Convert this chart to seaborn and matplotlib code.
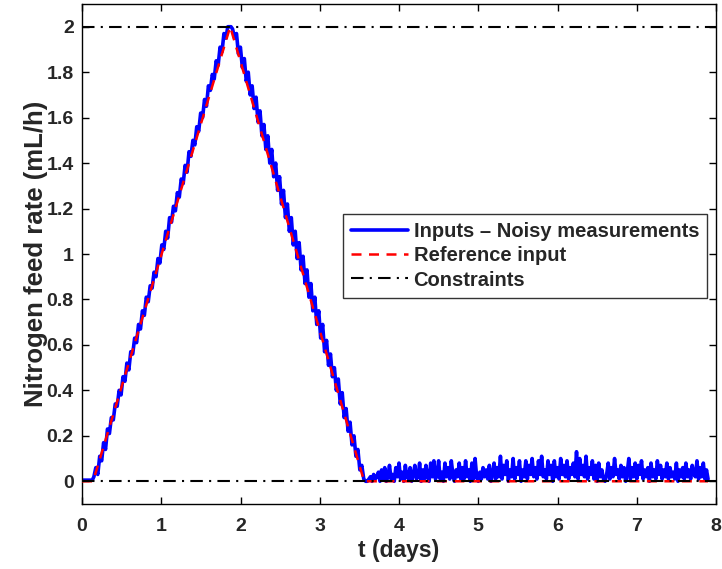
import numpy as np
import pandas as pd
import matplotlib
matplotlib.use("Agg")
import matplotlib.pyplot as plt
import seaborn as sns

# ---- data ----
start_t = [0.0, 0.07, 0.13]
start_y = [0.005, 0.005, 0.005]

rise_y = [0.02, 0.06, 0.03, 0.11, 0.09, 0.17, 0.14, 0.23, 0.21, 0.28,
          0.27, 0.34, 0.33, 0.40, 0.38, 0.46, 0.44, 0.52, 0.49, 0.57,
          0.56, 0.63, 0.61, 0.69, 0.67, 0.75, 0.73, 0.81, 0.79, 0.86,
          0.85, 0.92, 0.90, 0.98, 0.96, 1.04, 1.02, 1.10, 1.07, 1.16,
          1.14, 1.21, 1.19, 1.27, 1.25, 1.33, 1.31, 1.39, 1.36, 1.45,
          1.43, 1.50, 1.48, 1.56, 1.54, 1.62, 1.60, 1.68, 1.65, 1.74,
          1.72, 1.79, 1.77, 1.85, 1.83, 1.91, 1.89, 1.97, 1.95, 2.00]
rise_t = np.linspace(0.15, 1.84, len(rise_y))

peak_t = [1.86, 1.88]
peak_y = [2.00, 2.00]

fall_y = [1.99, 1.95, 1.97, 1.88, 1.91, 1.82, 1.86, 1.76, 1.80, 1.70,
          1.74, 1.64, 1.69, 1.58, 1.63, 1.52, 1.57, 1.46, 1.52, 1.40,
          1.46, 1.34, 1.40, 1.28, 1.34, 1.22, 1.28, 1.16, 1.22, 1.10,
          1.16, 1.04, 1.10, 0.98, 1.05, 0.93, 0.99, 0.87, 0.93, 0.81,
          0.87, 0.75, 0.81, 0.69, 0.75, 0.63, 0.69, 0.57, 0.62, 0.51,
          0.56, 0.46, 0.50, 0.40, 0.45, 0.34, 0.39, 0.28, 0.32, 0.22,
          0.26, 0.16, 0.20, 0.11, 0.14, 0.05, 0.07, 0.01, 0.00]
fall_t = np.linspace(1.90, 3.58, len(fall_y))

tail_y = [0.00, 0.01, 0.02, 0.00, 0.03, 0.01, 0.02, 0.04, 0.00, 0.05,
          0.01, 0.06, 0.00, 0.02, 0.07, 0.01, 0.03, 0.00, 0.06, 0.02,
          0.08, 0.01, 0.04, 0.00, 0.07, 0.02, 0.01, 0.06, 0.00, 0.03,
          0.07, 0.01, 0.02, 0.08, 0.00, 0.05, 0.01, 0.07, 0.02, 0.00,
          0.08, 0.02, 0.09, 0.01, 0.03, 0.09, 0.01, 0.04, 0.00, 0.08,
          0.02, 0.06, 0.01, 0.09, 0.03, 0.00, 0.05, 0.02, 0.08, 0.01,
          0.06, 0.01, 0.09, 0.02, 0.05, 0.00, 0.08, 0.01, 0.10, 0.02,
          0.00, 0.04, 0.01, 0.06, 0.02, 0.05, 0.01, 0.07, 0.00, 0.03,
          0.08, 0.01, 0.06, 0.02, 0.11, 0.01, 0.07, 0.03, 0.09, 0.00,
          0.05, 0.02, 0.10, 0.01, 0.06, 0.03, 0.09, 0.00, 0.05, 0.02,
          0.09, 0.01, 0.07, 0.03, 0.10, 0.02, 0.06, 0.01, 0.09, 0.03,
          0.11, 0.02, 0.05, 0.01, 0.09, 0.03, 0.07, 0.00, 0.09, 0.02,
          0.06, 0.01, 0.10, 0.03, 0.07, 0.02, 0.09, 0.01, 0.06, 0.03,
          0.08, 0.02, 0.13, 0.01, 0.10, 0.03, 0.07, 0.02, 0.11, 0.01,
          0.06, 0.03, 0.09, 0.01, 0.07, 0.00, 0.08, 0.02, 0.05, 0.01,
          0.00, 0.03, 0.08, 0.01, 0.06, 0.02, 0.10, 0.03, 0.05, 0.01,
          0.07, 0.02, 0.06, 0.00, 0.04, 0.10, 0.01, 0.06, 0.02, 0.08,
          0.01, 0.07, 0.03, 0.09, 0.01, 0.05, 0.02, 0.06, 0.00, 0.08,
          0.02, 0.05, 0.01, 0.09, 0.03, 0.07, 0.01, 0.05, 0.02, 0.08,
          0.01, 0.06, 0.02, 0.04, 0.01, 0.08, 0.00, 0.05, 0.02, 0.06,
          0.01, 0.08, 0.02, 0.05, 0.01, 0.07, 0.03, 0.02, 0.09, 0.01,
          0.06, 0.02, 0.08, 0.01, 0.05, 0.01]
tail_t = np.linspace(3.60, 7.90, len(tail_y))

ref_t = [0.0, 0.14, 1.87, 3.56, 7.90]
ref_y = [0.0, 0.0, 2.0, 0.0, 0.0]

constraint_t = [0.0, 8.0]
upper_limit = [2.0, 2.0]
lower_limit = [0.0, 0.0]

x_ticks = [0, 1, 2, 3, 4, 5, 6, 7, 8]
y_ticks = [0, 0.2, 0.4, 0.6, 0.8, 1, 1.2, 1.4, 1.6, 1.8, 2]
y_tick_labels = ["0", "0.2", "0.4", "0.6", "0.8", "1", "1.2", "1.4", "1.6", "1.8", "2"]

# ---- build tables ----
meas = pd.DataFrame({
    "t": np.concatenate([start_t, rise_t, peak_t, fall_t, tail_t]),
    "rate": np.concatenate([start_y, rise_y, peak_y, fall_y, tail_y]),
})
ref = pd.DataFrame({"t": ref_t, "rate": ref_y})
upper = pd.DataFrame({"t": constraint_t, "rate": upper_limit})
lower = pd.DataFrame({"t": constraint_t, "rate": lower_limit})

sns.set_theme(style="white")
plt.rcParams["font.family"] = ["Liberation Sans", "DejaVu Sans"]
plt.rcParams["font.weight"] = "bold"

fig = plt.figure(figsize=(7.22, 5.69), dpi=100)
ax = fig.add_axes([82 / 722, 1 - 504 / 569, (716 - 82) / 722, (504 - 4) / 569])

sns.lineplot(data=meas, x="t", y="rate", ax=ax, sort=False, estimator=None,
             color="#0000ff", lw=2.6, label="Inputs \u2013 Noisy measurements", zorder=2)
sns.lineplot(data=ref, x="t", y="rate", ax=ax, sort=False, estimator=None,
             color="#ff0000", lw=1.8, label="Reference input", zorder=3)
ax.lines[-1].set_linestyle((0, (4, 3)))
sns.lineplot(data=upper, x="t", y="rate", ax=ax, sort=False, estimator=None,
             color="black", lw=1.5, label="Constraints", zorder=4)
ax.lines[-1].set_linestyle((0, (6, 3, 1, 3)))
sns.lineplot(data=lower, x="t", y="rate", ax=ax, sort=False, estimator=None,
             color="black", lw=1.5, legend=False, zorder=4)
ax.lines[-1].set_linestyle((0, (6, 3, 1, 3)))

ax.set_xlim(0, 8)
ax.set_ylim(-0.1, 2.1)
ax.set_xticks(x_ticks)
ax.set_xticklabels([str(v) for v in x_ticks], fontsize=14, fontweight="bold")
ax.set_yticks(y_ticks)
ax.set_yticklabels(y_tick_labels, fontsize=14, fontweight="bold")
ax.tick_params(direction="in", length=5, width=1, color="black",
               top=True, right=True, bottom=True, left=True, pad=6)
ax.tick_params(axis="x", pad=10)
for s in ax.spines.values():
    s.set_color("black")
    s.set_linewidth(1.0)
    s.set_visible(True)

ax.set_xlabel("t (days)", fontsize=16.5, fontweight="bold", labelpad=3)
ax.set_ylabel("Nitrogen feed rate (mL/h)", fontsize=18.5, fontweight="bold", labelpad=-1)

leg = ax.legend(loc="upper right", bbox_to_anchor=(0.986, 0.58),
                prop={"weight": "bold", "size": 14.5}, frameon=True, fancybox=False,
                borderpad=0.4, labelspacing=0.26, handlelength=2.8, handletextpad=0.3,
                borderaxespad=0)
leg.get_frame().set_edgecolor("black")
leg.get_frame().set_linewidth(1.0)

fig.savefig("out.png", dpi=100)
